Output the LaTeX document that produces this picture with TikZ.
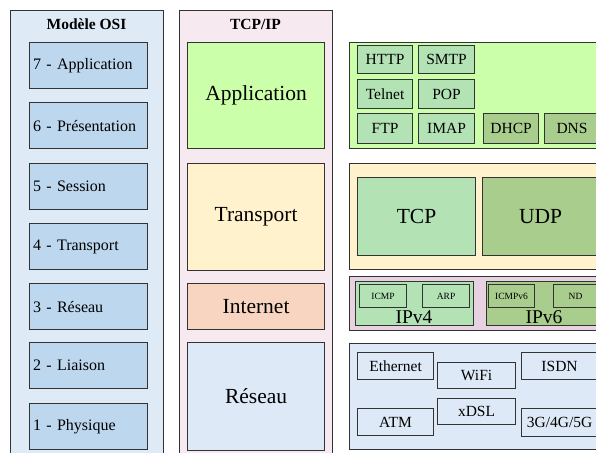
\documentclass[tikz,border=0pt]{standalone}
\usepackage{fontspec}
\setmainfont{Liberation Serif}
\definecolor{osibg}{HTML}{DEEBF7}
\definecolor{osibox}{HTML}{BDD7EE}
\definecolor{tcpbg}{HTML}{F6E9F0}
\definecolor{appbg}{HTML}{CCFFAA}
\definecolor{trbg}{HTML}{FFF2CC}
\definecolor{inetbg}{HTML}{F8D5C1}
\definecolor{netbg}{HTML}{DDE9F6}
\definecolor{mint}{HTML}{B3E3B5}
\definecolor{sage}{HTML}{A9CD8D}
\definecolor{inetgrp}{HTML}{E8D1E0}
\definecolor{edge}{HTML}{333333}
\begin{document}
\begin{tikzpicture}[x=1pt,y=-1pt,
  cell/.style={draw=edge, line width=1.1pt, anchor=north west, inner sep=0pt},
  sz/.style 2 args={minimum width=#1pt, minimum height=#2pt},
  small/.style={font=\fontsize{15.5}{17}\selectfont},
  ositext/.style={font=\fontsize{16}{18}\selectfont, align=left, inner xsep=3.5pt, text width=111pt},
  big/.style={font=\fontsize{21.5}{24}\selectfont},
  tiny/.style={font=\fontsize{9.5}{11}\selectfont},
  title/.style={font=\bfseries\fontsize{15.5}{17}\selectfont}]
\useasboundingbox[fill=white] (0,0) rectangle (596,452);

% OSI model column
\node[cell, sz={153}{460}, fill=osibg] (osi) at (10,10) {};
\node[title] (osititle) at (86.5,24) {Modèle OSI};
\foreach \y/\t/\n in {42/7 - Application/o7, 102/6 - Présentation/o6, 163/5 - Session/o5,
    223/4 - Transport/o4, 283/3 - Réseau/o3, 342/2 - Liaison/o2, 403/1 - Physique/o1}
  \node[cell, sz={118}{46}, fill=osibox, ositext] (\n) at (29,\y) {\t};

% TCP/IP column
\node[cell, sz={153}{460}, fill=tcpbg] (tcpip) at (179,10) {};
\node[title] (tcptitle) at (255.5,24) {TCP/IP};
\node[cell, sz={137}{106}, fill=appbg, big] (app) at (187,42) {Application};
\node[cell, sz={137}{107}, fill=trbg, big] (tr) at (187,163) {Transport};
\node[cell, sz={137}{46}, fill=inetbg, big] (inet) at (187,283) {Internet};
\node[cell, sz={137}{108}, fill=netbg, big] (net) at (187,342) {Réseau};

% Application protocols
\node[cell, sz={270}{106}, fill=appbg] (appg) at (349,42) {};
\node[cell, sz={55}{28}, fill=mint, small] (http) at (357,45) {HTTP};
\node[cell, sz={56}{28}, fill=mint, small] (smtp) at (418,45) {SMTP};
\node[cell, sz={55}{29}, fill=mint, small] (telnet) at (357,79) {Telnet};
\node[cell, sz={56}{29}, fill=mint, small] (pop) at (418,79) {POP};
\node[cell, sz={55}{30}, fill=mint, small] (ftp) at (357,113) {FTP};
\node[cell, sz={56}{30}, fill=mint, small] (imap) at (418,113) {IMAP};
\node[cell, sz={55}{30}, fill=sage, small] (dhcp) at (483,113) {DHCP};
\node[cell, sz={55}{30}, fill=sage, small] (dns) at (544,113) {DNS};

% Transport protocols
\node[cell, sz={270}{106}, fill=trbg] (trg) at (349,163) {};
\node[cell, sz={118}{78}, fill=mint, big] (tcp) at (357,177) {TCP};
\node[cell, sz={116}{78}, fill=sage, big] (udp) at (482,177) {UDP};

% Internet protocols
\node[cell, sz={270}{54}, fill=inetgrp] (inetg) at (349,276) {};
\node[cell, sz={118}{44}, fill=mint] (ipv4) at (355,281) {};
\node[cell, sz={116}{44}, fill=sage] (ipv6) at (486,281) {};
\node[cell, sz={47}{23}, fill=mint, tiny] (icmp) at (359,284) {ICMP};
\node[cell, sz={47}{23}, fill=mint, tiny] (arp) at (422,284) {ARP};
\node[cell, sz={46}{23}, fill=sage, tiny] (icmp6) at (488,284) {ICMPv6};
\node[cell, sz={44}{23}, fill=sage, tiny] (nd) at (553,284) {ND};
\node[font=\fontsize{19.5}{21}\selectfont, inner sep=0pt] (ipv4l) at (414,317) {IPv4};
\node[font=\fontsize{19.5}{21}\selectfont, inner sep=0pt] (ipv6l) at (544,317) {IPv6};

% Link technologies
\node[cell, sz={270}{106}, fill=netbg] (netg) at (349,343) {};
\node[cell, sz={76}{27}, fill=netbg, small] (eth) at (357,352) {Ethernet};
\node[cell, sz={78}{26}, fill=netbg, small] (wifi) at (437,362) {WiFi};
\node[cell, sz={76}{27}, fill=netbg, small] (isdn) at (521,352) {ISDN};
\node[cell, sz={76}{27}, fill=netbg, small] (atm) at (357,408) {ATM};
\node[cell, sz={78}{26}, fill=netbg, small] (xdsl) at (437,398) {xDSL};
\node[cell, sz={76}{28}, fill=netbg, small] (cell) at (521,408) {3G/4G/5G};
\end{tikzpicture}
\end{document}
